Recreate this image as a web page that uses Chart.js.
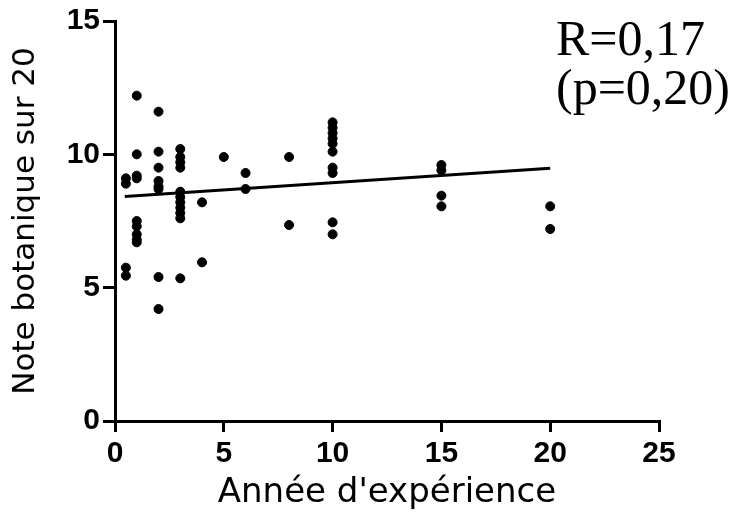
<!DOCTYPE html>
<html>
<head>
<meta charset="utf-8">
<script src="https://cdn.jsdelivr.net/npm/chart.js@4/dist/chart.umd.min.js"></script>
<style>
  html, body { margin: 0; padding: 0; background: #fff; }
  #wrap { width: 739px; height: 514px; }
</style>
</head>
<body>
<div id="wrap"><canvas id="graf"></canvas></div>
<script>
// Années d'expérience / note botanique (une entrée par point)
const experience = [
  0.5, 0.5, 0.5, 0.5,
  1, 1, 1, 1, 1, 1, 1, 1, 1,
  2, 2, 2, 2, 2, 2, 2, 2,
  3, 3, 3, 3, 3, 3, 3, 3, 3, 3, 3,
  4, 4,
  5,
  6, 6,
  8, 8,
  10, 10, 10, 10, 10, 10, 10, 10, 10, 10,
  15, 15, 15, 15,
  20, 20
];
const notes = [
  9.1, 8.9, 5.75, 5.45,
  12.2, 10.0, 9.2, 9.1, 7.5, 7.3, 7.0, 6.8, 6.7,
  11.6, 10.1, 9.5, 9.0, 8.8, 8.7, 5.4, 4.2,
  10.2, 9.9, 9.7, 9.5, 8.6, 8.4, 8.2, 8.0, 7.8, 7.6, 5.35,
  8.2, 5.95,
  9.9,
  9.3, 8.7,
  9.9, 7.35,
  11.2, 11.0, 10.8, 10.6, 10.4, 10.1, 9.5, 9.3, 7.45, 7.0,
  9.6, 9.4, 8.45, 8.05,
  8.05, 7.2
];

// droite de régression (extrémités)
const regX = [0.45, 20];
const regY = [8.42, 9.48];

const ticksX = [0, 5, 10, 15, 20, 25];
const ticksY = [0, 5, 10, 15];

const annotation = ['R=0,17', '(p=0,20)'];

// texte de corrélation en haut à droite
const texteR = {
  id: 'texteR',
  afterDraw(chart) {
    const ctx = chart.ctx;
    ctx.save();
    ctx.fillStyle = '#000';
    ctx.font = '50px "Liberation Serif"';
    ctx.textAlign = 'left';
    ctx.textBaseline = 'alphabetic';
    ctx.fillText(annotation[0], 556, 55);
    ctx.fillText(annotation[1], 556, 104);
    ctx.restore();
  }
};

const ctx = document.getElementById('graf').getContext('2d');
new Chart(ctx, {
  type: 'scatter',
  data: {
    datasets: [
      {
        label: 'Notes',
        data: experience.map((x, i) => ({ x: x, y: notes[i] })),
        backgroundColor: '#000',
        borderColor: '#000',
        pointRadius: 4.5,
        borderWidth: 1
      },
      {
        type: 'line',
        label: 'Régression',
        data: regX.map((x, i) => ({ x: x, y: regY[i] })),
        borderColor: '#000',
        borderWidth: 3,
        pointRadius: 0,
        fill: false
      }
    ]
  },
  options: {
    responsive: true,
    maintainAspectRatio: false,
    devicePixelRatio: 1,
    animation: false,
    layout: { padding: { top: 21, right: 80, left: 0, bottom: 0 } },
    plugins: {
      legend: { display: false },
      tooltip: { enabled: false }
    },
    scales: {
      x: {
        type: 'linear',
        min: 0, max: 25,
        afterFit: s => { s.height = 93; },
        afterBuildTicks: s => { s.ticks = ticksX.map(v => ({ value: v })); },
        ticks: {
          color: '#000',
          font: { family: '"Liberation Sans", Arial', size: 30, weight: 'bold' },
          padding: 4,
          maxRotation: 0
        },
        grid: { drawOnChartArea: false, drawTicks: true, tickLength: 11, color: '#000', lineWidth: 3 },
        border: { display: true, color: '#000', width: 3 },
        title: {
          display: true,
          text: "Année d'expérience",
          color: '#000',
          font: { family: '"DejaVu Sans"', size: 34 },
          padding: { top: 0, bottom: 0 }
        }
      },
      y: {
        type: 'linear',
        min: 0, max: 15,
        afterFit: s => { s.width = 115; },
        afterBuildTicks: s => { s.ticks = ticksY.map(v => ({ value: v })); },
        ticks: {
          color: '#000',
          font: { family: '"Liberation Sans", Arial', size: 30, weight: 'bold' },
          padding: 3
        },
        grid: { drawOnChartArea: false, drawTicks: true, tickLength: 12, color: '#000', lineWidth: 3 },
        border: { display: true, color: '#000', width: 3 },
        title: {
          display: true,
          text: 'Note botanique sur 20',
          color: '#000',
          font: { family: '"DejaVu Sans"', size: 31 },
          padding: { top: 7, bottom: 0 }
        }
      }
    }
  },
  plugins: [texteR]
});
</script>
</body>
</html>
